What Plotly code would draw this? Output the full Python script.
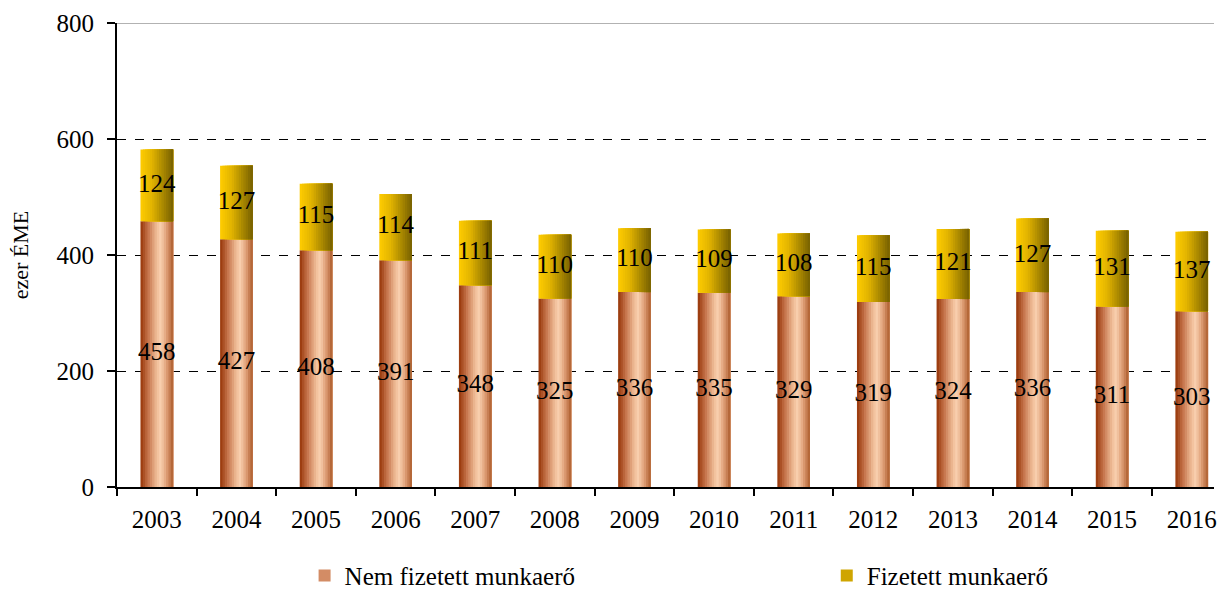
import plotly.graph_objects as go

years = ["2003", "2004", "2005", "2006", "2007", "2008", "2009",
         "2010", "2011", "2012", "2013", "2014", "2015", "2016"]
nem_fizetett = [458, 427, 408, 391, 348, 325, 336, 335, 329, 319, 324, 336, 311, 303]
fizetett = [124, 127, 115, 114, 111, 110, 110, 109, 108, 115, 121, 127, 131, 137]

FONT = "Liberation Serif, Times New Roman, serif"

# horizontal gradients of the bar fills (position across bar, rgb)
copper_stops = [(0.0, (150, 52, 6)), (0.25, (200, 120, 80)), (0.5, (240, 190, 152)),
                (0.62, (249, 208, 176)), (0.8, (222, 158, 118)), (1.0, (172, 92, 44))]
gold_stops = [(0.0, (255, 204, 0)), (0.35, (226, 180, 0)), (1.0, (118, 96, 0))]


def grad_color(stops, t):
    for (t0, c0), (t1, c1) in zip(stops[:-1], stops[1:]):
        if t0 <= t <= t1:
            f = (t - t0) / (t1 - t0)
            c = [round(a + (b - a) * f) for a, b in zip(c0, c1)]
            return f"rgb({c[0]},{c[1]},{c[2]})"
    c = stops[-1][1]
    return f"rgb({c[0]},{c[1]},{c[2]})"


BAR_W = 0.41
N_STRIPS = 14
strip_w = BAR_W / N_STRIPS

fig = go.Figure()

# each strip reaches to the right edge of the bar and covers the previous one,
# so the fill looks like a gradient without gaps between strips
for series, base, name, stops, legend, leg_idx in [
    (nem_fizetett, None, "Nem fizetett munkaerő", copper_stops, "legend", 4),
    (fizetett, nem_fizetett, "Fizetett munkaerő", gold_stops, "legend2", 6),
]:
    for i in range(N_STRIPS):
        t = (i + 0.5) / N_STRIPS
        fig.add_trace(go.Bar(
            x=years, y=series, base=base,
            width=BAR_W - i * strip_w, offset=-BAR_W / 2 + i * strip_w,
            marker=dict(color=grad_color(stops, t), line=dict(width=0)),
            name=name, legendgroup=name, legend=legend,
            showlegend=(i == leg_idx), hoverinfo="skip" if i != leg_idx else None,
        ))

# value labels, centred in each segment (scatter text so they are not shrunk)
mid_lower = [v / 2 for v in nem_fizetett]
mid_upper = [a + b / 2 for a, b in zip(nem_fizetett, fizetett)]
fig.add_trace(go.Scatter(
    x=years, y=mid_lower, mode="text", text=[str(v) for v in nem_fizetett],
    textfont=dict(family=FONT, size=25, color="black"),
    showlegend=False, hoverinfo="skip",
))
fig.add_trace(go.Scatter(
    x=years, y=mid_upper, mode="text", text=[str(v) for v in fizetett],
    textfont=dict(family=FONT, size=25, color="black"),
    showlegend=False, hoverinfo="skip",
))

# top border line at 800 is gray and solid
fig.add_shape(type="line", xref="paper", yref="y", x0=0, x1=1, y0=800, y1=800,
              line=dict(color="#999999", width=1.5))

legend_style = dict(
    orientation="h", yref="container", yanchor="middle", y=0.026, xanchor="left",
    font=dict(family=FONT, size=25, color="black"),
    bgcolor="rgba(0,0,0,0)", itemwidth=30,
)

# page body has an 8px margin on every side, so the figure is 16px smaller
# than the window to avoid scrollbars
fig.update_layout(
    barmode="overlay",
    width=1209, height=583,
    margin=dict(l=109, r=0, t=15, b=104),
    plot_bgcolor="white", paper_bgcolor="white",
    font=dict(family=FONT, size=24, color="black"),
    legend=dict(legend_style, x=0.171),
    legend2=dict(legend_style, x=0.647),
)

fig.update_xaxes(
    range=[-0.5, 13.28],
    showline=True, linecolor="black", linewidth=2,
    ticks="outside", tickson="boundaries", ticklen=7, tickcolor="black", tickwidth=1.5,
    ticklabelstandoff=9,
    showgrid=False,
    tickfont=dict(family=FONT, size=25, color="black"),
)
fig.update_yaxes(
    range=[0, 800], dtick=200,
    showline=True, linecolor="black", linewidth=2,
    ticks="outside", ticklen=8, tickcolor="black", tickwidth=1.5,
    ticklabelstandoff=8,
    showgrid=True, gridcolor="black", griddash="dash", gridwidth=1,
    zeroline=False,
    tickfont=dict(family=FONT, size=25, color="black"),
    title=dict(text="ezer ÉME", font=dict(family=FONT, size=22, color="black"), standoff=26),
)

fig.write_html("out.html")
